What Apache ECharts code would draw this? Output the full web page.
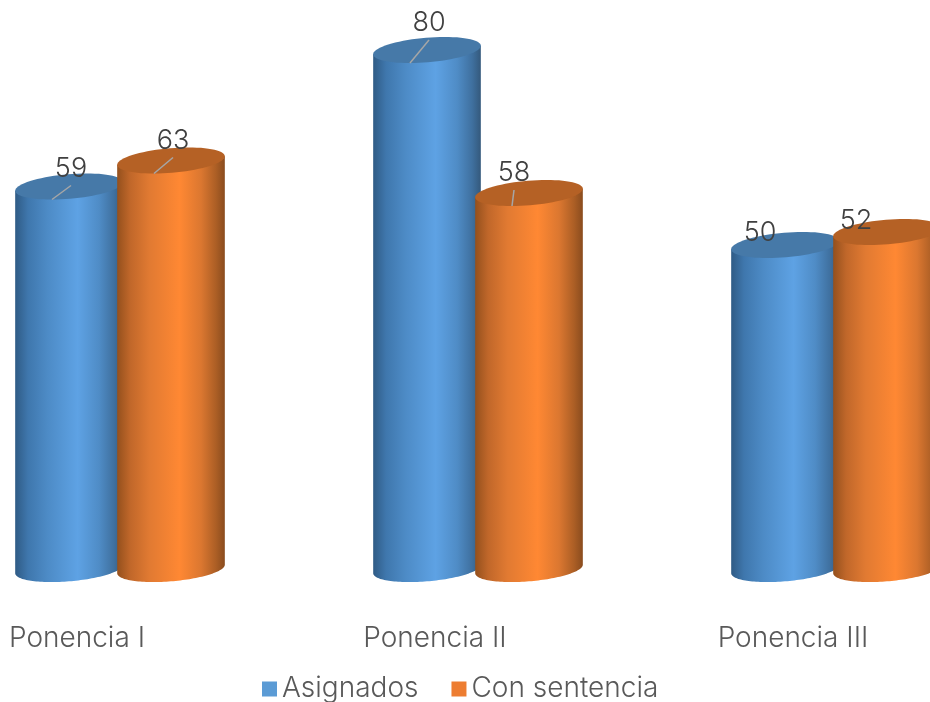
<!DOCTYPE html>
<html><head><meta charset="utf-8">
<style>html,body{margin:0;padding:0;background:#fff;overflow:hidden}#c{width:930px;height:702px}</style>
<script src="https://cdn.jsdelivr.net/npm/echarts@6/dist/echarts.min.js"></script>
</head><body><div id="c"></div>
<script>
const categories = ['Ponencia I', 'Ponencia II', 'Ponencia III'];
const asignados = [59, 80, 50];
const conSentencia = [63, 58, 52];
// label offsets from the cylinder's top centre [dx, dy, hasLeaderLine]
const asignadosLabels = [[2, -18, 1], [2, -27, 1], [-25, -12, 0]];
const sentenciaLabels = [[2, -20, 1], [-15, -20, 1], [-31, -11, 0]];
const FONT = 'Inter';
const blueStops = [[0,'#2f5b85'],[0.12,'#3f77ad'],[0.3,'#4d8bc6'],[0.58,'#5ea2e4'],[0.78,'#4f8cc6'],[0.92,'#3f709f'],[1,'#34597c']];
const orangeStops = [[0,'#94501d'],[0.12,'#c0672a'],[0.3,'#e17a32'],[0.58,'#ff8833'],[0.78,'#db7730'],[0.92,'#ab5e25'],[1,'#8a4c1e']];

const TILT = 4.8 * Math.PI / 180, RX = 54, RY = 12.3;
function pt(cx, cy, t) {
  return [cx + RX * Math.cos(t) * Math.cos(TILT) + RY * Math.sin(t) * Math.sin(TILT),
          cy - RX * Math.cos(t) * Math.sin(TILT) + RY * Math.sin(t) * Math.cos(TILT)];
}
function ell(cx, cy, a, b) { const p = []; for (let i = 0; i <= 72; i++) { const t = a + (b - a) * i / 72; p.push(pt(cx, cy, t)); } return p; }
const T0 = Math.atan2(RY * Math.sin(TILT), RX * Math.cos(TILT));

function cylinder(shift, stops, topColor, labels) {
  return function (params, api) {
    const i = api.value(0), v = api.value(1);
    const band = api.size([1, 0])[0];
    const top = api.coord([i, v]), base = api.coord([i, 0]);
    const cx = top[0] + band * shift, ty = top[1], by = base[1] - 1;
    const low = ell(cx, by, T0, T0 + Math.PI);
    const tr = pt(cx, ty, T0), tl = pt(cx, ty, T0 + Math.PI);
    const body = low.concat([tl, tr]);
    const off = labels[i];
    const lx = cx + off[0], ly = ty + off[1];
    const children = [
      { type: 'polygon', shape: { points: body }, style: { fill: { type: 'linear', x: 0, y: 0, x2: 1, y2: 0, colorStops: stops.map(s => ({ offset: s[0], color: s[1] })) } } },
      { type: 'polygon', shape: { points: ell(cx, ty, 0, Math.PI * 2) }, style: { fill: topColor } }
    ];
    if (off[2]) children.push({ type: 'line', shape: { x1: cx - 17, y1: ty + 13, x2: lx, y2: ly + 17 }, style: { stroke: '#a6a6a6', lineWidth: 1.5 } });
    children.push({ type: 'text', style: { text: String(v), x: lx, y: ly, align: 'center', verticalAlign: 'middle', fill: '#404040', font: '300 27px ' + FONT } });
    return { type: 'group', children };
  };
}
const chart = echarts.init(document.getElementById('c'), null, { renderer: 'canvas' });
chart.setOption({
  animation: false,
  backgroundColor: '#fff',
  grid: { left: -102, width: 1074, top: 50, height: 520, outerBoundsMode: 'none', containLabel: false },
  xAxis: { type: 'category', data: categories, axisLine: { show: false }, axisTick: { show: false },
    axisLabel: { margin: 55, fontFamily: FONT, fontWeight: 300, fontSize: 28, color: '#595959', interval: 0 } },
  yAxis: { type: 'value', min: 0, max: 80, show: false },
  legend: { top: 670, left: 257, itemWidth: 15, itemHeight: 15, itemGap: 33, icon: 'rect',
    textStyle: { fontFamily: FONT, fontWeight: 300, fontSize: 28, color: '#595959' } },
  series: [
    { type: 'custom', name: 'Asignados', clip: false, itemStyle: { color: '#5b9bd5' }, encode: { x: 0, y: 1 },
      data: asignados.map((v, i) => [i, v]), renderItem: cylinder(-8 / 358, blueStops, '#4679a8', asignadosLabels) },
    { type: 'custom', name: 'Con sentencia', clip: false, itemStyle: { color: '#ed7d31' }, encode: { x: 0, y: 1 },
      data: conSentencia.map((v, i) => [i, v]), renderItem: cylinder(94 / 358, orangeStops, '#b56125', sentenciaLabels) }
  ]
});
</script></body></html>
